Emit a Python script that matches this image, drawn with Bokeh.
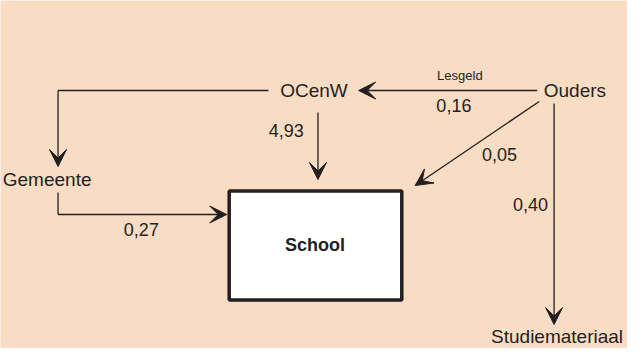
from bokeh.plotting import figure
from bokeh.models import Range1d, Arrow, VeeHead
from bokeh.embed import file_html
from bokeh.resources import INLINE
from bokeh.core.properties import value

# ---- data ----
nodes = ["OCenW", "Ouders", "Gemeente", "School", "Studiemateriaal"]
flow_from = ["OCenW", "Ouders", "OCenW", "Gemeente", "Ouders", "Ouders"]
flow_to = ["Gemeente", "OCenW", "School", "School", "School", "Studiemateriaal"]
flow_values = [None, 0.16, 4.93, 0.27, 0.05, 0.40]
flow_notes = ["", "Lesgeld", "", "", "", ""]

# ---- layout (reference pixel coordinates) ----
node_pos = {
    "OCenW": (326, 108),
    "Ouders": (589, 108),
    "Gemeente": (57, 197),
    "School": (327, 262),
    "Studiemateriaal": (571, 354),
}
routes = {
    ("OCenW", "Gemeente"): [(280, 108), (68, 108), (68, 184)],
    ("Ouders", "OCenW"): [(551, 108), (371, 108)],
    ("OCenW", "School"): [(330, 130), (330, 197)],
    ("Gemeente", "School"): [(68, 210), (68, 232), (238, 232)],
    ("Ouders", "School"): [(553, 119), (428, 203)],
    ("Ouders", "Studiemateriaal"): [(568, 121), (568, 342)],
}
value_pos = {
    ("Ouders", "OCenW"): (467, 123, "center"),
    ("OCenW", "School"): (298, 148, "center"),
    ("Gemeente", "School"): (152, 247, "center"),
    ("Ouders", "School"): (513, 172, "center"),
    ("Ouders", "Studiemateriaal"): (562, 222, "right"),
}
note_pos = {("Ouders", "OCenW"): (473, 93)}
box = (240.5, 414.5, 208.5, 317.5)  # left, right, top, bottom

BG = "#F9DCC4"
INK = "#231f20"
FONT = value("Liberation Sans")

p = figure(width=627, height=348, x_range=Range1d(10, 642), y_range=Range1d(366, 18),
           output_backend="svg", toolbar_location=None, min_border=0)
p.axis.visible = False
p.grid.visible = False
p.outline_line_color = None
p.background_fill_color = BG
p.border_fill_color = BG

# flows
for f, t, v, note in zip(flow_from, flow_to, flow_values, flow_notes):
    pts = routes[(f, t)]
    for (x0, y0), (x1, y1) in zip(pts[:-2], pts[1:-1]):
        p.line([x0, x1], [y0, y1], line_color=INK, line_width=1.3)
    (x0, y0), (x1, y1) = pts[-2], pts[-1]
    p.add_layout(Arrow(end=VeeHead(size=17, fill_color=INK, line_color=INK, line_width=1),
                       x_start=x0, y_start=y0, x_end=x1, y_end=y1,
                       line_color=INK, line_width=1.3))
    if v is not None:
        x, y, al = value_pos[(f, t)]
        p.text([x], [y], text=[f"{v:.2f}".replace(".", ",")], text_font=FONT,
               text_font_size="18px", text_align=al, text_baseline="middle", text_color=INK)
    if note:
        x, y = note_pos[(f, t)]
        p.text([x], [y], text=[note], text_font=FONT, text_font_size="13px",
               text_align="center", text_baseline="middle", text_color=INK)

# School box
l, r, tp, b = box
p.quad(left=[l], right=[r], top=[tp], bottom=[b], fill_color="white",
       line_color=INK, line_width=3.5)

# node labels
for n in nodes:
    x, y = node_pos[n]
    if n == "School":
        p.text([x], [y], text=[n], text_font=FONT, text_font_size="18px",
               text_font_style="bold", text_align="center", text_baseline="middle",
               text_color=INK)
    else:
        p.text([x], [y], text=[n], text_font=FONT, text_font_size="19px",
               text_align="center", text_baseline="middle", text_color=INK)

open("out.html", "w").write(file_html(p, INLINE))
